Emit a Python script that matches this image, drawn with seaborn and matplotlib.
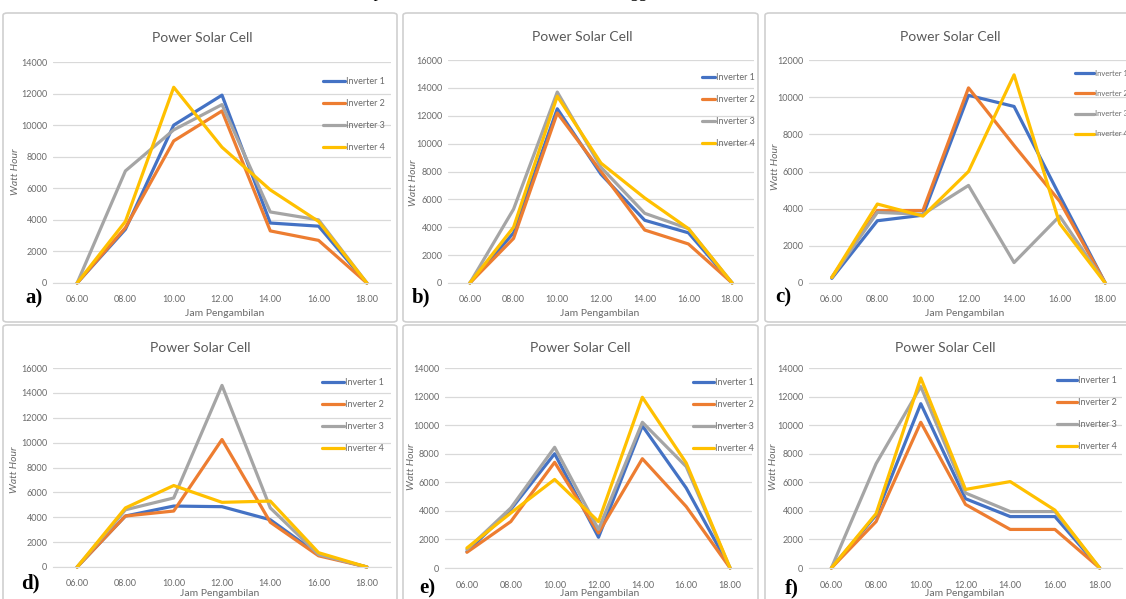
import matplotlib
matplotlib.use("Agg")
import matplotlib.pyplot as plt
from matplotlib.patches import FancyBboxPatch
import seaborn as sns
import pandas as pd

# hours on the x axis
hours = ["06.00", "08.00", "10.00", "12.00", "14.00", "16.00", "18.00"]
inverters = ["Inverter 1", "Inverter 2", "Inverter 3", "Inverter 4"]

# Watt Hour per inverter
panel_a = {
    "Inverter 1": [0, 3400, 10000, 11900, 3800, 3600, 0],
    "Inverter 2": [0, 3500, 9000, 10900, 3300, 2700, 0],
    "Inverter 3": [0, 7100, 9700, 11300, 4500, 4000, 0],
    "Inverter 4": [0, 3900, 12400, 8600, 5900, 3900, 0],
}
panel_b = {
    "Inverter 1": [0, 3600, 12500, 7800, 4500, 3600, 0],
    "Inverter 2": [0, 3200, 12200, 8000, 3800, 2800, 0],
    "Inverter 3": [0, 5300, 13700, 8300, 5000, 3900, 0],
    "Inverter 4": [0, 4000, 13400, 8600, 6100, 3900, 0],
}
panel_c = {
    "Inverter 1": [250, 3350, 3650, 10100, 9500, 4700, 0],
    "Inverter 2": [300, 3900, 3900, 10500, 7400, 4400, 0],
    "Inverter 3": [300, 3800, 3700, 5250, 1100, 3600, 0],
    "Inverter 4": [300, 4250, 3600, 6000, 11200, 3200, 0],
}
panel_d = {
    "Inverter 1": [0, 4100, 4900, 4850, 3800, 1000, 0],
    "Inverter 2": [0, 4100, 4500, 10250, 3600, 900, 0],
    "Inverter 3": [0, 4600, 5550, 14600, 4750, 1000, 0],
    "Inverter 4": [0, 4750, 6550, 5200, 5300, 1150, 0],
}
panel_e = {
    "Inverter 1": [1150, 4100, 8000, 2150, 9950, 5600, 0],
    "Inverter 2": [1100, 3250, 7400, 2450, 7650, 4300, 0],
    "Inverter 3": [1300, 4200, 8450, 2700, 10200, 7100, 0],
    "Inverter 4": [1400, 3850, 6200, 3250, 11950, 7350, 0],
}
panel_f = {
    "Inverter 1": [0, 3700, 11500, 4850, 3600, 3600, 0],
    "Inverter 2": [0, 3250, 10200, 4450, 2700, 2700, 0],
    "Inverter 3": [0, 7300, 12700, 5250, 3950, 3950, 0],
    "Inverter 4": [0, 3800, 13300, 5500, 6050, 4050, 0],
}
panel_data = [panel_a, panel_b, panel_c, panel_d, panel_e, panel_f]
panel_ymax = [14000, 16000, 12000, 16000, 14000, 14000]
panel_letters = ["a)", "b)", "c)", "d)", "e)", "f)"]

colors = {"Inverter 1": "#4472C4", "Inverter 2": "#ED7D31",
          "Inverter 3": "#A5A5A5", "Inverter 4": "#FFC000"}

# layout in pixels: plot box (l, t, r, b), title, ylabel, xlabel, letter,
# legend (x, y, handle length, font size), border
layout = [
    dict(plot=(53, 62, 391, 283), title=(202, 38), ylab=(16, 172), xlab=(225, 313),
         letter=(34, 298), leg=(323, 82, 2.4, 6.5), border=(3, 13, 397, 322)),
    dict(plot=(448, 60, 754, 283), title=(582, 37), ylab=(413, 183), xlab=(600, 313),
         letter=(421, 297), leg=(702, 78, 1.4, 6.5), border=(403, 13, 758, 322)),
    dict(plot=(809, 60, 1128, 283), title=(950, 37), ylab=(775, 167), xlab=(965, 313),
         letter=(783, 297), leg=(1075, 75, 2.5, 5.5), border=(765, 13, 1140, 322)),
    dict(plot=(53, 368, 391, 567), title=(200, 348), ylab=(15, 470), xlab=(220, 593),
         letter=(30, 583), leg=(322, 383, 2.4, 6.5), border=(3, 325, 397, 620)),
    dict(plot=(445, 368, 752, 568), title=(580, 348), ylab=(412, 467), xlab=(600, 593),
         letter=(427, 588), leg=(693, 383, 2.3, 6.5), border=(403, 325, 758, 620)),
    dict(plot=(809, 368, 1122, 568), title=(945, 348), ylab=(773, 467), xlab=(965, 593),
         letter=(792, 588), leg=(1057, 381, 2.2, 6.5), border=(765, 325, 1140, 620)),
]

W, H = 1126, 599
sns.set_style("white")
plt.rcParams["font.family"] = ["Lato", "DejaVu Sans"]

fig = plt.figure(figsize=(W / 100, H / 100), dpi=100)


def fx(x):
    return x / W


def fy(y):
    return 1 - y / H


# cut-off line of body text above the figure
fig.text(fx(58), fy(-3), "waktu Jam 10.00 – 12.00, dan nilai maksimum puncak berada di sekitar 10.000 W hingga 14.600 W.",
         fontsize=12, family=["Liberation Serif", "DejaVu Serif"], va="baseline", ha="left", color="black")

for data, ymax, letter, lay in zip(panel_data, panel_ymax, panel_letters, layout):
    bl, bt, br, bb = lay["border"]
    fig.patches.append(FancyBboxPatch((fx(bl), fy(bb)), fx(br - bl), (bb - bt) / H,
                                      boxstyle="round,pad=0,rounding_size=0.004",
                                      transform=fig.transFigure, facecolor="none",
                                      edgecolor="#D0D0D0", linewidth=1.2, zorder=0))

    l, t, r, b = lay["plot"]
    ax = fig.add_axes([fx(l), fy(b), (r - l) / W, (b - t) / H])
    ax.set_facecolor("none")

    rows = []
    for inv in inverters:
        for i, v in enumerate(data[inv]):
            rows.append({"pos": i, "wh": v, "inverter": inv})
    df = pd.DataFrame(rows)

    sns.lineplot(data=df, x="pos", y="wh", hue="inverter", hue_order=inverters,
                 palette=colors, linewidth=2.3, ax=ax, sort=False, clip_on=False)

    ax.set_xlim(-0.5, 6.5)
    ax.set_ylim(0, ymax)
    ax.set_yticks(range(0, ymax + 1, 2000))
    ax.set_xticks(range(len(hours)))
    ax.set_xticklabels(hours)
    ax.tick_params(axis="both", length=0, labelsize=6.5, colors="#6a6a6a")
    ax.tick_params(axis="x", pad=9)
    ax.tick_params(axis="y", pad=4)
    ax.yaxis.grid(True, color="#D9D9D9", linewidth=0.9)
    ax.set_axisbelow(True)
    for side in ["top", "right", "left"]:
        ax.spines[side].set_visible(False)
    ax.spines["bottom"].set_color("#D9D9D9")
    ax.set_xlabel("")
    ax.set_ylabel("")

    lx, ly, hl, lfs = lay["leg"]
    leg = ax.legend(loc="upper left", bbox_to_anchor=(fx(lx), fy(ly - 5)),
                    bbox_transform=fig.transFigure, frameon=False, fontsize=lfs,
                    handlelength=hl, handletextpad=0.1, labelspacing=1.45 * 6.5 / lfs,
                    borderpad=0, borderaxespad=0)
    for txt in leg.get_texts():
        txt.set_color("#6a6a6a")

    tx, ty = lay["title"]
    fig.text(fx(tx), fy(ty), "Power Solar Cell", ha="center", va="center",
             fontsize=10, color="#595959")
    yx, yy = lay["ylab"]
    fig.text(fx(yx), fy(yy), "Watt Hour", ha="center", va="center", rotation=90,
             fontsize=7.5, color="#6a6a6a", style="italic")
    xx, xy = lay["xlab"]
    fig.text(fx(xx), fy(xy), "Jam Pengambilan", ha="center", va="center",
             fontsize=7.5, color="#6a6a6a")
    px, py = lay["letter"]
    fig.text(fx(px), fy(py), letter, ha="center", va="center", fontsize=15,
             fontweight="bold", family=["Liberation Serif", "DejaVu Serif"], color="black")

fig.savefig("out.png", dpi=100)
